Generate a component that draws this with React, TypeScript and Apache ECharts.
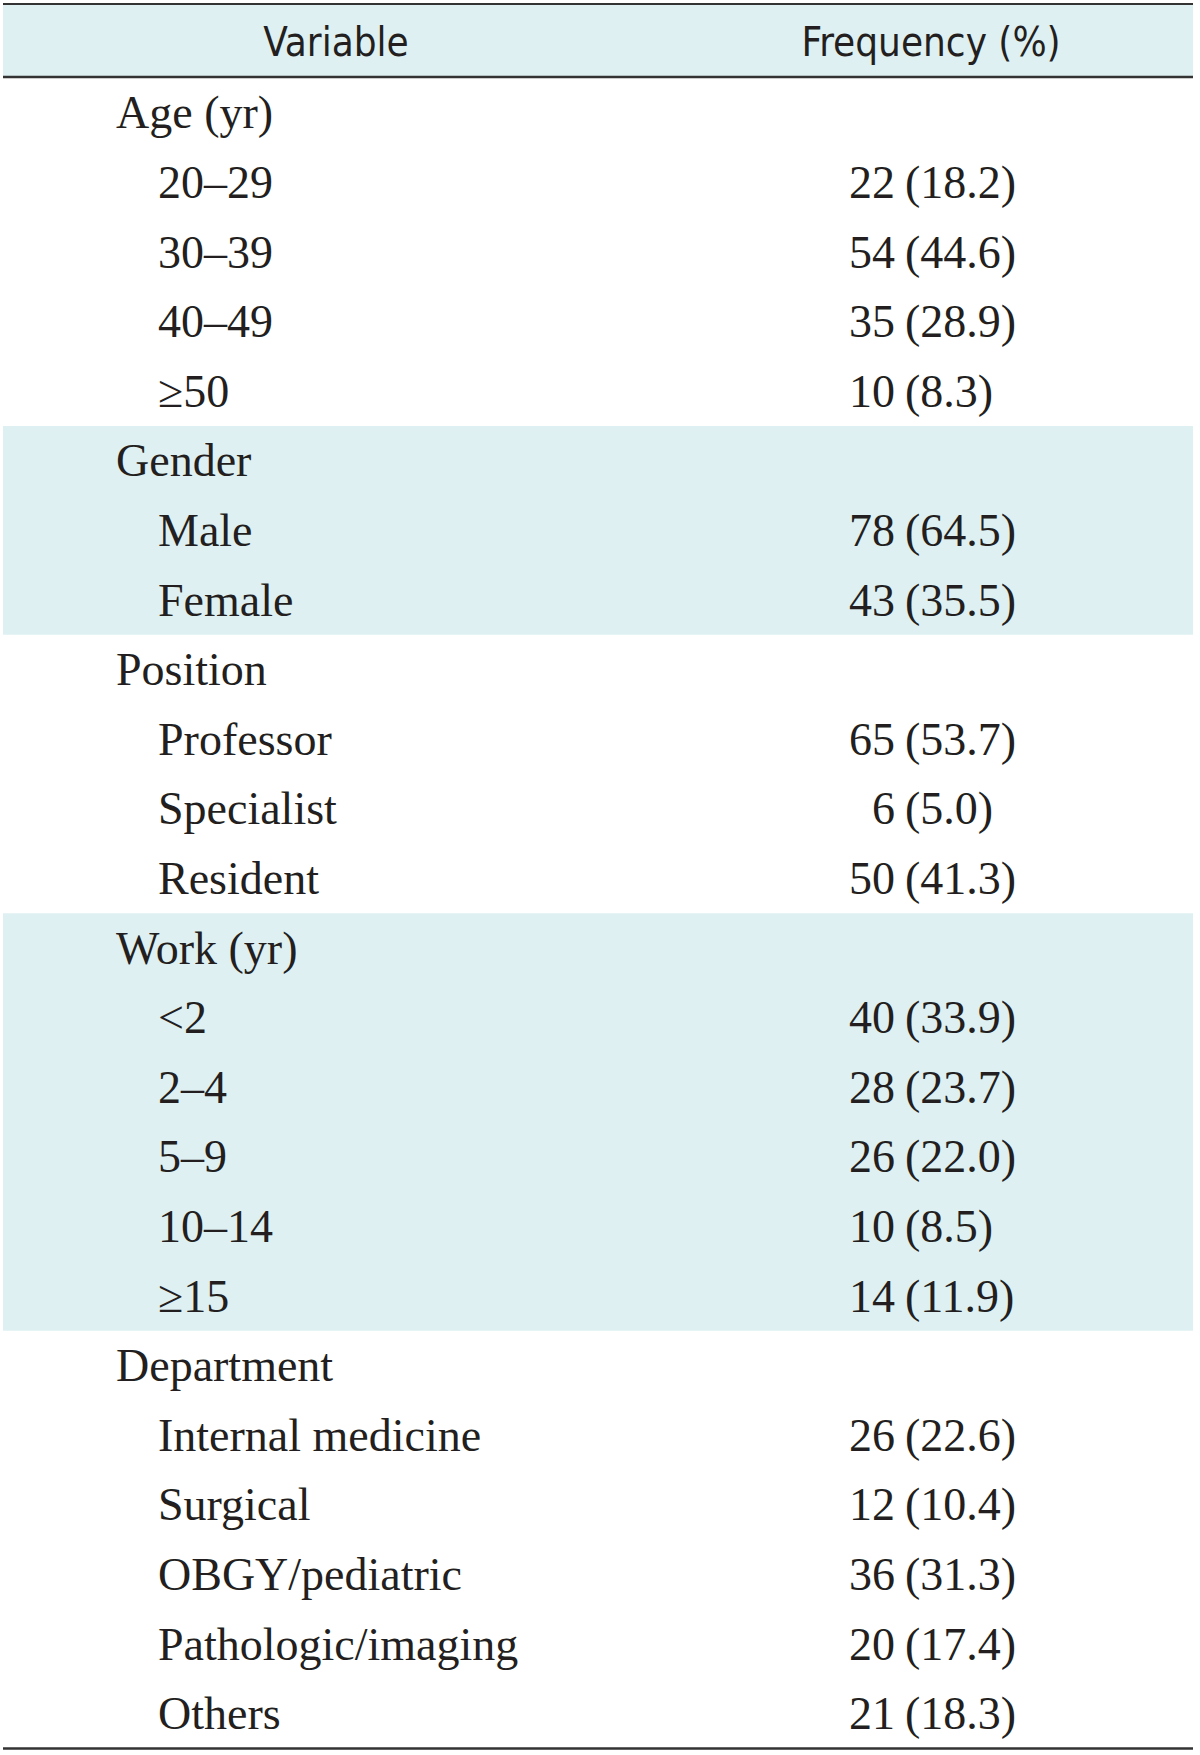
import React, { useEffect, useRef } from "react";
import * as echarts from "echarts";

const headers = ["Variable", "Frequency (%)"];
const groups = ["Age (yr)", "Gender", "Position", "Work (yr)", "Department"];
const groupShaded = [false, true, false, true, false];
const ageLabels = ["20–29", "30–39", "40–49", "≥50"];
const ageCounts = [22, 54, 35, 10];
const agePct = ["18.2", "44.6", "28.9", "8.3"];
const genderLabels = ["Male", "Female"];
const genderCounts = [78, 43];
const genderPct = ["64.5", "35.5"];
const positionLabels = ["Professor", "Specialist", "Resident"];
const positionCounts = [65, 6, 50];
const positionPct = ["53.7", "5.0", "41.3"];
const workLabels = ["<2", "2–4", "5–9", "10–14", "≥15"];
const workCounts = [40, 28, 26, 10, 14];
const workPct = ["33.9", "23.7", "22.0", "8.5", "11.9"];
const deptLabels = ["Internal medicine", "Surgical", "OBGY/pediatric", "Pathologic/imaging", "Others"];
const deptCounts = [26, 12, 36, 20, 21];
const deptPct = ["22.6", "10.4", "31.3", "17.4", "18.3"];

const sections = [
  { labels: ageLabels, counts: ageCounts, pct: agePct },
  { labels: genderLabels, counts: genderCounts, pct: genderPct },
  { labels: positionLabels, counts: positionCounts, pct: positionPct },
  { labels: workLabels, counts: workCounts, pct: workPct },
  { labels: deptLabels, counts: deptCounts, pct: deptPct },
];

export default function App() {
  const ref = useRef<HTMLDivElement>(null);
  useEffect(() => {
    document.body.style.margin = "0";
    const chart = echarts.init(ref.current!, undefined, { renderer: "svg" });
    const left = 3;
    const right = 1193;
    const headerTop = 4;
    const headerBottom = 77;
    const rowH = 69.6;
    const bodyTop = 78;
    const groupX = 116;
    const itemX = 158;
    const countRight = 895;
    const pctLeft = 905;
    const serif = "'Liberation Serif', 'Times New Roman', serif";
    const fs = 46;
    const color = "#231f20";
    const band = "#dff0f3";
    const els: any[] = [];
    els.push({ type: "rect", shape: { x: left, y: headerTop, width: right - left, height: headerBottom - headerTop }, style: { fill: band } });
    let row = 0;
    const texts: any[] = [];
    const cy = (r: number) => bodyTop + (r + 0.5) * rowH;
    sections.forEach((sec, gi) => {
      const n = sec.labels.length + 1;
      if (groupShaded[gi]) {
        els.push({ type: "rect", shape: { x: left, y: bodyTop + row * rowH, width: right - left, height: n * rowH }, style: { fill: band } });
      }
      texts.push({ type: "text", x: groupX, y: cy(row), style: { text: groups[gi], font: `${fs}px ${serif}`, fill: color, textAlign: "left", textVerticalAlign: "middle" } });
      row++;
      sec.labels.forEach((lab, i) => {
        texts.push({ type: "text", x: itemX, y: cy(row), style: { text: lab, font: `${fs}px ${serif}`, fill: color, textAlign: "left", textVerticalAlign: "middle" } });
        texts.push({ type: "text", x: countRight, y: cy(row), style: { text: String(sec.counts[i]), font: `${fs}px ${serif}`, fill: color, textAlign: "right", textVerticalAlign: "middle" } });
        texts.push({ type: "text", x: pctLeft, y: cy(row), style: { text: `(${sec.pct[i]})`, font: `${fs}px ${serif}`, fill: color, textAlign: "left", textVerticalAlign: "middle" } });
        row++;
      });
    });
    const bottom = bodyTop + row * rowH;
    els.push({ type: "line", shape: { x1: left, y1: headerTop, x2: right, y2: headerTop }, style: { stroke: "#333", lineWidth: 2 } });
    els.push({ type: "line", shape: { x1: left, y1: headerBottom, x2: right, y2: headerBottom }, style: { stroke: "#333", lineWidth: 2.5 } });
    els.push({ type: "line", shape: { x1: left, y1: bottom, x2: right, y2: bottom }, style: { stroke: "#333", lineWidth: 2.5 } });
    const hfont = "40px 'DejaVu Sans Condensed', 'Liberation Sans Narrow', 'Open Sans', sans-serif";
    texts.push({ type: "text", x: 336, y: (headerTop + headerBottom) / 2 + 1, style: { text: headers[0], font: hfont, fill: color, textAlign: "center", textVerticalAlign: "middle" } });
    texts.push({ type: "text", x: 931, y: (headerTop + headerBottom) / 2 + 1, style: { text: headers[1], font: hfont, fill: color, textAlign: "center", textVerticalAlign: "middle" } });
    chart.setOption({ animation: false, graphic: { elements: [...els, ...texts] } });
    return () => chart.dispose();
  }, []);
  return <div ref={ref} style={{ width: 1200, height: 1755 }} />;
}
